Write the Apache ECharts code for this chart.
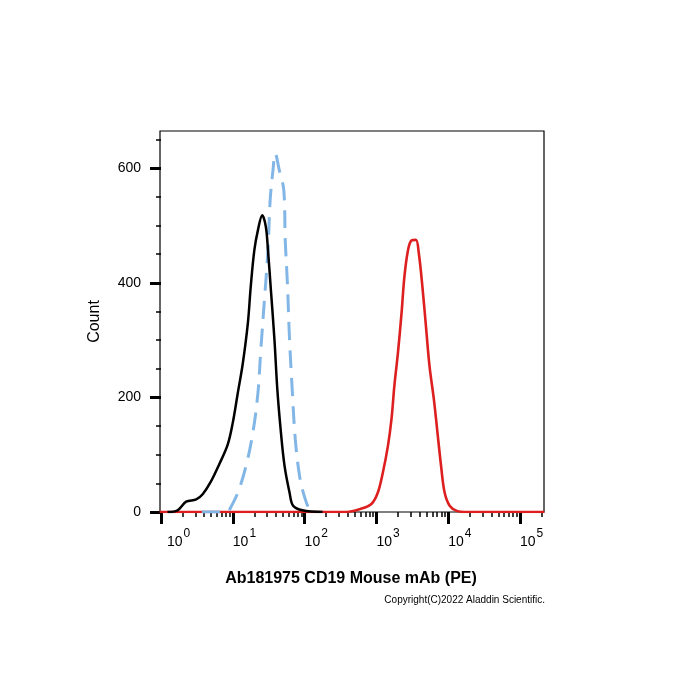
<!DOCTYPE html>
<html>
<head>
<meta charset="utf-8">
<script src="https://cdn.jsdelivr.net/npm/echarts@6.0.0/dist/echarts.min.js"></script>
<style>
  html, body { margin: 0; background: #fff; }
  #chart { width: 700px; height: 700px; }
</style>
</head>
<body>
<div id="chart"></div>
<script>
// x values are log10 of PE intensity, y values are counts
const decades = [0, 1, 2, 3, 4, 5]
const countTicks = [0, 200, 400, 600]
const countMinorTicks = [50, 100, 150, 250, 300, 350, 450, 500, 550, 650]

// isotype / unstained control (black)
const blackX = [0.09, 0.23, 0.35, 0.49, 0.58, 0.69, 0.81, 0.93, 1.00, 1.07, 1.14, 1.21, 1.25, 1.30, 1.35, 1.41, 1.46, 1.49, 1.53, 1.58, 1.62, 1.67, 1.72, 1.79, 1.84, 1.97, 2.25]
const blackY = [0, 3, 18, 22, 31, 52, 83, 118, 156, 208, 260, 330, 394, 457, 492, 518, 498, 457, 388, 301, 214, 139, 81, 34, 11, 3, 0]

// blue dashed control
const blueX = [0.57, 0.92, 0.97, 1.07, 1.18, 1.28, 1.35, 1.39, 1.44, 1.49, 1.52, 1.56, 1.59, 1.65, 1.71, 1.73, 1.76, 1.79, 1.83, 1.87, 1.93, 2.00, 2.07, 2.16]
const blueY = [0, 0, 8, 34, 78, 139, 208, 283, 370, 457, 544, 597, 626, 595, 562, 475, 400, 301, 208, 127, 63, 26, 5, 0]

// CD19 PE stained (red)
const redX = [-0.02, 2.58, 2.77, 2.93, 3.02, 3.09, 3.16, 3.21, 3.25, 3.30, 3.35, 3.39, 3.44, 3.49, 3.55, 3.59, 3.64, 3.69, 3.74, 3.80, 3.85, 3.90, 3.95, 4.02, 4.12, 4.26, 5.34]
const redY = [0, 0, 5, 14, 34, 69, 115, 162, 220, 278, 347, 411, 457, 474, 475, 452, 394, 324, 254, 197, 139, 81, 34, 11, 2, 0, 0]

const xMin = -0.014
const xMax = 5.334
const yMax = 665
const font = 'Liberation Sans, Arial, sans-serif'

const pairs = (xs, ys) => xs.map((x, i) => [x, ys[i]])

// log minor ticks 2..9 within every decade
const minorX = []
decades.forEach(d => {
  for (let k = 2; k <= 9; k++) {
    const v = d + Math.log10(k)
    if (v < xMax) minorX.push(v)
  }
})

const chart = echarts.init(document.getElementById('chart'), null, { renderer: 'canvas' })

chart.setOption({
  animation: false,
  backgroundColor: '#fff',
  textStyle: { fontFamily: font },
  title: [{
    text: 'Ab181975 CD19 Mouse mAb (PE)',
    left: 351,
    top: 571,
    padding: 0,
    textAlign: 'center',
    textStyle: { fontSize: 16, fontWeight: 'bold', color: '#000', fontFamily: font }
  }, {
    text: 'Copyright(C)2022 Aladdin Scientific.',
    right: 155,
    top: 595,
    padding: 0,
    textStyle: { fontSize: 10, fontWeight: 'normal', color: '#000', fontFamily: font }
  }],
  grid: {
    left: 160,
    right: 156,
    top: 131,
    bottom: 188,
    show: true,
    borderColor: '#000',
    borderWidth: 1.2
  },
  xAxis: [{
    type: 'value',
    min: xMin,
    max: xMax,
    axisLine: { show: false },
    axisTick: { customValues: decades, length: 12, lineStyle: { color: '#000', width: 3 } },
    splitLine: { show: false },
    axisLabel: {
      customValues: decades,
      align: 'left',
      margin: 16,
      color: '#000',
      formatter: v => (v === 0 ? '{b0|10}{s|' + v + '}' : '{b|10}{s|' + v + '}'),
      rich: {
        b: { fontSize: 14, color: '#000', fontFamily: font },
        b0: { fontSize: 14, color: '#000', fontFamily: font, padding: [0, 0, 0, 6] },
        s: { fontSize: 12, color: '#000', fontFamily: font, padding: [0, 0, 16, 1] }
      }
    }
  }, {
    type: 'value',
    min: xMin,
    max: xMax,
    position: 'bottom',
    axisLine: { show: false },
    axisTick: { customValues: minorX, length: 5, lineStyle: { color: '#000', width: 1.5 } },
    axisLabel: { show: false },
    splitLine: { show: false }
  }],
  yAxis: [{
    type: 'value',
    min: 0,
    max: yMax,
    name: 'Count',
    nameLocation: 'middle',
    nameGap: 57,
    nameTextStyle: { fontSize: 16, color: '#000', fontFamily: font },
    axisLine: { show: false },
    axisTick: { customValues: countTicks, length: 11, lineStyle: { color: '#000', width: 3 } },
    splitLine: { show: false },
    axisLabel: { customValues: countTicks, margin: 19, fontSize: 14, color: '#000', fontFamily: font }
  }, {
    type: 'value',
    min: 0,
    max: yMax,
    position: 'left',
    axisLine: { show: false },
    axisTick: { customValues: countMinorTicks, length: 5, lineStyle: { color: '#000', width: 1.5 } },
    axisLabel: { show: false },
    splitLine: { show: false }
  }],
  series: [{
    name: 'CD19 PE',
    type: 'line',
    data: pairs(redX, redY),
    showSymbol: false,
    smooth: 0.35,
    lineStyle: { color: '#dd1f1f', width: 2.6 }
  }, {
    name: 'Control',
    type: 'line',
    data: pairs(blueX, blueY),
    showSymbol: false,
    smooth: 0.35,
    lineStyle: { color: '#82b6e6', width: 3, type: [18, 10] }
  }, {
    name: 'Blank',
    type: 'line',
    data: pairs(blackX, blackY),
    showSymbol: false,
    smooth: 0.35,
    lineStyle: { color: '#000', width: 2.5 }
  }]
})
</script>
</body>
</html>
